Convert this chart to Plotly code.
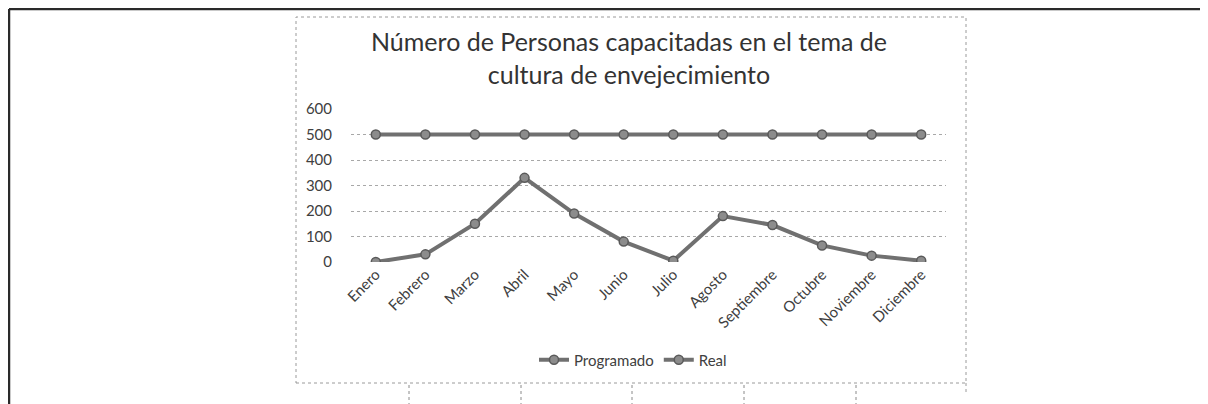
import plotly.graph_objects as go

meses = ["Enero", "Febrero", "Marzo", "Abril", "Mayo", "Junio", "Julio",
         "Agosto", "Septiembre", "Octubre", "Noviembre", "Diciembre"]
programado = [500, 500, 500, 500, 500, 500, 500, 500, 500, 500, 500, 500]
real = [0, 30, 150, 330, 190, 80, 5, 180, 145, 65, 25, 5]
y_ticks = [0, 100, 200, 300, 400, 500, 600]

# page has an 8px body margin; figure drawn at (8, 8)
OFF = 8
W, H = 1200, 396
# plot area in page pixels
PL, PR, PT, PB = 351, 946, 109, 262
L, R, T, B = PL - OFF, W - (PR - OFF), PT - OFF, H - (PB - OFF)

LINE = "#707070"
MARK = "#8c8c8c"
TXT = "#404040"
FONT = "Lato, 'Open Sans', sans-serif"

fig = go.Figure()
for name, vals in [("Programado", programado), ("Real", real)]:
    fig.add_trace(go.Scatter(
        x=meses, y=vals, name=name, mode="lines+markers",
        line=dict(color=LINE, width=4),
        marker=dict(symbol="circle", size=9, color=MARK,
                    line=dict(color="#5a5a5a", width=1.5)),
    ))

def px(x):
    return (x - PL) / (PR - PL)

def py(y):
    return (PB - y) / (PB - PT)

shapes = []
shapes.append(dict(type="rect", xref="paper", yref="paper",
                   x0=px(296), x1=px(966), y0=py(383), y1=py(17),
                   line=dict(color="#9a9a9a", width=1, dash="dot")))
shapes.append(dict(type="line", xref="paper", yref="paper",
                   x0=px(966), x1=px(966), y0=py(383), y1=py(395),
                   line=dict(color="#9a9a9a", width=1, dash="dot")))
shapes.append(dict(type="line", xref="paper", yref="paper",
                   x0=px(9), x1=px(1208), y0=py(9), y1=py(9),
                   line=dict(color="#2a2a2a", width=2.5)))
shapes.append(dict(type="line", xref="paper", yref="paper",
                   x0=px(9), x1=px(9), y0=py(9), y1=py(404),
                   line=dict(color="#2a2a2a", width=2.5)))
for xx in [409, 521, 632, 744, 856]:
    shapes.append(dict(type="line", xref="paper", yref="paper",
                       x0=px(xx), x1=px(xx), y0=py(385), y1=py(404),
                       line=dict(color="#8a8a8a", width=1, dash="dot")))

fig.update_layout(
    width=W, height=H,
    margin=dict(l=L, r=R, t=T, b=B, pad=0),
    paper_bgcolor="white", plot_bgcolor="white",
    font=dict(family=FONT, color=TXT, size=15),
    title=dict(
        text="Número de Personas capacitadas en el tema de<br>cultura de envejecimiento",
        x=px(629), xref="paper", xanchor="center",
        y=1 - (51 - OFF) / H, yref="container", yanchor="middle",
        font=dict(family=FONT, size=25, color="#333333"),
    ),
    showlegend=True,
    legend=dict(orientation="h", x=px(633), xanchor="center",
                y=py(360), yanchor="middle",
                font=dict(size=15, color=TXT),
                bgcolor="rgba(0,0,0,0)"),
    shapes=shapes,
    xaxis=dict(
        type="category", tickangle=-45, showgrid=False, showline=False,
        ticks="", tickfont=dict(size=15, color=TXT), range=[-0.5, 11.5],
    ),
    yaxis=dict(
        range=[0, 600], tickvals=y_ticks, showgrid=True,
        gridcolor="#a8a8a8", griddash="dot", gridwidth=1,
        zeroline=False, showline=False, ticks="",
        tickfont=dict(size=15, color=TXT), ticklabelstandoff=18,
    ),
)

fig.write_html("out.html")
